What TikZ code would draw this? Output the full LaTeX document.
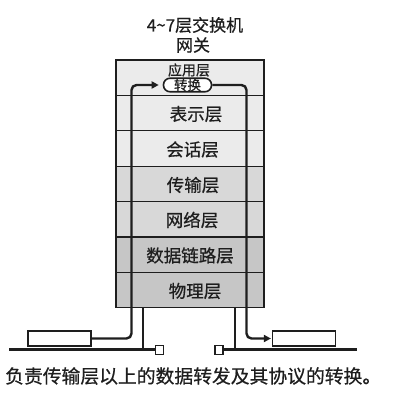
\documentclass[tikz,border=0pt]{standalone}
\usepackage{fontspec}
\setmainfont{Noto Sans CJK SC}[FakeBold=0.6,AutoFakeBold=0.6]
\newfontfamily\heavycjk{Noto Sans CJK SC}[FakeBold=0.6]
\usetikzlibrary{arrows.meta}
\definecolor{lyrA}{HTML}{EBEBEB}
\definecolor{lyrB}{HTML}{D8D8D8}
\definecolor{lyrC}{HTML}{C6C6C6}
\definecolor{ink}{HTML}{1E1E1E}
\tikzset{
  x=1pt,y=-1pt,
  layer/.style={draw=ink, line width=1.1pt, minimum width=148pt, minimum height=35.4pt, inner sep=0pt, outer sep=0pt},
  lbl/.style={font=\heavycjk\fontsize{17.5}{19}\selectfont, text=ink, inner sep=0pt},
  flow/.style={draw=ink, line width=2.4pt, rounded corners=5pt},
  tip/.style={-{Triangle[length=7pt,width=7pt]}},
  dev/.style={draw=ink, line width=1.2pt, fill=white, minimum width=63pt, minimum height=15pt, inner sep=0pt},
  sq/.style={draw=ink, line width=1.4pt, fill=white, minimum width=8pt, minimum height=9pt, inner sep=0pt},
  bus/.style={draw=ink, line width=3pt},
  stub/.style={draw=ink, line width=2pt},
}
\begin{document}
\begin{tikzpicture}
\useasboundingbox (0,0) rectangle (416,406);
% title
\node[lbl, font=\heavycjk\fontsize{17}{18}\selectfont] (t1) at (195,25) {4\textasciitilde 7层交换机};
\node[lbl, font=\heavycjk\fontsize{17}{18}\selectfont] (t2) at (193,45) {网关};
% layers
\node[layer, fill=lyrA] (app) at (190,77.7) {};
\node[layer, fill=lyrA] (pres) at (190,113.1) {};
\node[layer, fill=lyrA] (sess) at (190,148.5) {};
\node[layer, fill=lyrB] (trans) at (190,183.9) {};
\node[layer, fill=lyrB] (net) at (190,219.3) {};
\node[layer, fill=lyrC] (link) at (190,254.7) {};
\node[layer, fill=lyrC] (phys) at (190,290.1) {};
% labels
\node[lbl, font=\heavycjk\fontsize{14}{15}\selectfont] (appl) at (189,70) {应用层};
\node[lbl] (presl) at (196,114) {表示层};
\node[lbl] (sessl) at (192.5,149.5) {会话层};
\node[lbl] (transl) at (193,185) {传输层};
\node[lbl] (netl) at (192,220) {网络层};
\node[lbl] (linkl) at (190,255.5) {数据链路层};
\node[lbl] (physl) at (195,291) {物理层};
% pill
\node[draw=ink, line width=1.6pt, rounded corners=6.5pt, minimum width=48pt, minimum height=13.5pt, inner sep=0pt, fill=white,
      font=\heavycjk\fontsize{13.5}{14}\selectfont, text=ink] (pill) at (187.5,85) {转换};
% devices and bus
\node[dev] (devL) at (59.5,338.5) {};
\node[dev] (devR) at (304,338.5) {};
\node[sq] (sqL) at (159.5,350) {};
\node[sq] (sqR) at (219,350) {};
\coordinate (busL) at (9,350);
\coordinate (busR) at (357,350);
\draw[bus] (busL) -- (sqL.west);
\draw[bus] (sqR.east) -- (busR);
% stubs
\coordinate (sLt) at (143,308);
\coordinate (sLb) at (143,350);
\coordinate (sRt) at (235,308);
\coordinate (sRb) at (235,350);
\draw[stub] (sLt) -- (sLb);
\draw[stub] (sRt) -- (sRb);
% flow
\coordinate (cL) at (131.5,85);
\coordinate (cR) at (246.5,338.5);
\draw[flow, tip, shorten >=4pt] (devL.east) -| (cL) -- (pill.west);
\draw[flow, tip, shorten >=1pt] (pill.east) -| (cR) -- (devR.west);
% caption
\node[lbl, anchor=west, font=\heavycjk\fontsize{18.8}{20}\selectfont] (cap) at (5,376) {负责传输层以上的数据转发及其协议的转换。};
\end{tikzpicture}
\end{document}
